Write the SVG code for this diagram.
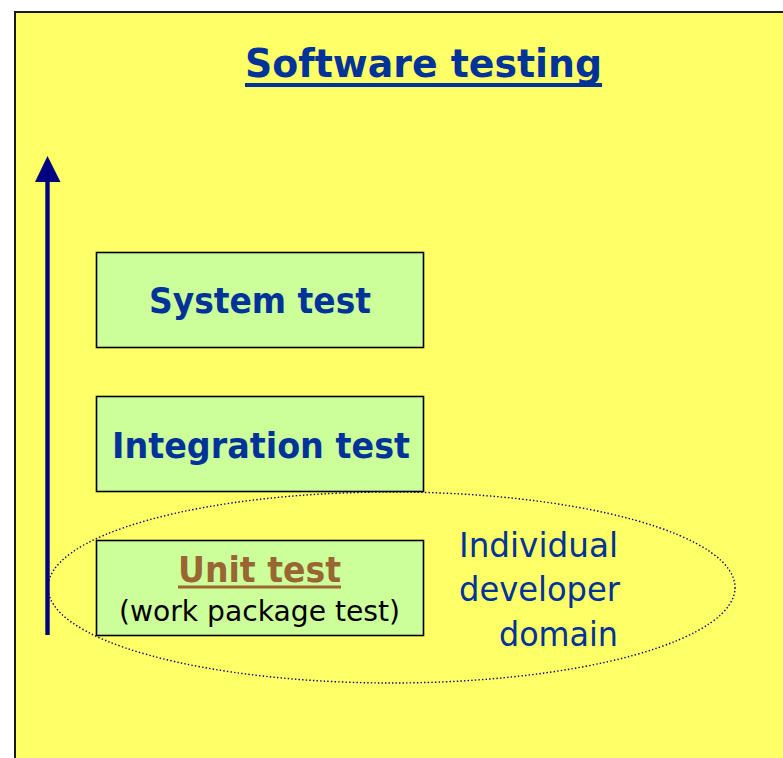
<svg xmlns="http://www.w3.org/2000/svg" width="783" height="758" viewBox="0 0 783 758">
  <style>
    .frame { fill: #FFFF66; stroke: #1a1a1a; stroke-width: 2; }
    .box { fill: #CCFF99; stroke: #000000; stroke-width: 1.6; }
    .bold { font-family: "DejaVu Sans", Verdana, sans-serif; font-weight: bold; fill: #003399; }
    .plain { font-family: "DejaVu Sans", Verdana, sans-serif; fill: #003399; }
    .note { font-family: "DejaVu Sans", Verdana, sans-serif; fill: #000000; }
    .domain { fill: none; stroke: #000080; stroke-width: 1.4; stroke-dasharray: 1.4 2.2; }
    .axis { fill: #000080; }
  </style>

  <!-- background panel -->
  <rect class="frame" x="15" y="12" width="780" height="760"/>

  <!-- title -->
  <g id="title">
    <text class="bold" x="423.5" y="77" font-size="39" text-anchor="middle" textLength="357" lengthAdjust="spacingAndGlyphs">Software testing</text>
    <rect x="245" y="83" width="357" height="4" fill="#003399"/>
  </g>

  <!-- test levels -->
  <g id="system-test">
    <rect class="box" x="96.5" y="252.5" width="327" height="95"/>
    <text class="bold" x="260" y="313" font-size="35" text-anchor="middle" textLength="222" lengthAdjust="spacingAndGlyphs">System test</text>
  </g>

  <g id="integration-test">
    <rect class="box" x="96.5" y="396.5" width="327" height="95"/>
    <text class="bold" x="261" y="458" font-size="35" text-anchor="middle" textLength="298" lengthAdjust="spacingAndGlyphs">Integration test</text>
  </g>

  <g id="unit-test">
    <rect class="box" x="96.5" y="540.5" width="327" height="95"/>
    <text class="bold" x="259.5" y="582" font-size="35" text-anchor="middle" textLength="163" lengthAdjust="spacingAndGlyphs" style="fill:#996633">Unit test</text>
    <rect x="178" y="585.5" width="163" height="3" fill="#996633"/>
    <text class="note" x="259.5" y="621" font-size="28" text-anchor="middle" textLength="281" lengthAdjust="spacingAndGlyphs">(work package test)</text>
  </g>

  <!-- developer domain -->
  <g id="developer-domain">
    <text class="plain" x="459" y="557" font-size="34" textLength="159" lengthAdjust="spacingAndGlyphs">Individual</text>
    <text class="plain" x="459" y="601" font-size="34" textLength="161" lengthAdjust="spacingAndGlyphs">developer</text>
    <text class="plain" x="499" y="645.5" font-size="34" textLength="119" lengthAdjust="spacingAndGlyphs">domain</text>
  </g>

  <!-- connectors: scope ellipse and level axis -->
  <g id="connectors">
    <ellipse class="domain" cx="391.5" cy="587.5" rx="343.5" ry="95.5"/>
    <rect class="axis" x="45.3" y="180" width="4.4" height="455"/>
    <polygon class="axis" points="47.5,156 35,182 60.5,182"/>
  </g>
</svg>
